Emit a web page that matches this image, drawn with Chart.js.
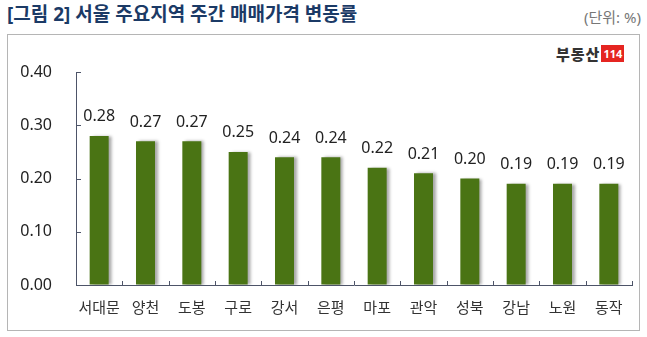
<!DOCTYPE html>
<html lang="ko">
<head>
<meta charset="utf-8">
<script src="https://cdn.jsdelivr.net/npm/chart.js@4/dist/chart.umd.min.js"></script>
<style>
  body { margin:0; width:647px; height:337px; background:#fff; position:relative; overflow:hidden;
         font-family:'Noto Sans','Noto Sans CJK KR',sans-serif; }
  #titre { position:absolute; left:7px; top:-1px; font-size:19px; font-weight:bold; color:#1b3a66; letter-spacing:0px; }
  #unite { position:absolute; right:6px; top:6px; font-size:15px; color:#777; }
  #cadre { position:absolute; left:7px; top:34px; width:633px; height:297px; border:1px solid #b5b5b5; box-sizing:border-box; }
  #logo { position:absolute; left:556px; top:45px; height:16px; display:flex; align-items:center; }
  #logo .txt { font-size:15px; font-weight:900; color:#333; letter-spacing:1px; margin-right:1px; }
  #logo .num { background:#e52521; color:#fff; font-size:11px; font-weight:bold; padding:1px 2px; line-height:15px; }
  #c { position:absolute; left:0; top:0; }
</style>
</head>
<body>
<div id="titre">[그림 2] 서울 주요지역 주간 매매가격 변동률</div>
<div id="unite">(단위: %)</div>
<div id="cadre"></div>
<div id="logo"><span class="txt">부동산</span><span class="num">114</span></div>
<canvas id="c" width="647" height="337"></canvas>
<script>
const regions = ['서대문','양천','도봉','구로','강서','은평','마포','관악','성북','강남','노원','동작']
const variations = [0.28,0.27,0.27,0.25,0.24,0.24,0.22,0.21,0.20,0.19,0.19,0.19]
const graduations = [0,0.1,0.2,0.3,0.4]

const couleurBarre = '#4a7414'
const couleurAxe = '#4d5468'
const police = "'Noto Sans','Noto Sans CJK KR',sans-serif"

// ombre a droite des barres
const ombre = {
  id:'ombre',
  beforeDatasetsDraw(chart){
    const ctx = chart.ctx
    ctx.save()
    ctx.shadowColor = 'rgba(0,0,0,0.35)'
    ctx.shadowOffsetX = 3
    ctx.shadowOffsetY = 0
    ctx.shadowBlur = 3
  },
  afterDatasetsDraw(chart){
    chart.ctx.restore()
  }
}

// valeurs au-dessus des barres
const etiquettes = {
  id:'etiquettes',
  afterDatasetsDraw(chart){
    const ctx = chart.ctx
    const meta = chart.getDatasetMeta(0)
    ctx.save()
    ctx.font = '16px ' + police
    ctx.fillStyle = '#222'
    ctx.textAlign = 'center'
    ctx.textBaseline = 'bottom'
    meta.data.forEach((barre,i)=>{
      ctx.fillText(variations[i].toFixed(2), barre.x, barre.y - 11)
    })
    ctx.restore()
  }
}

// petits traits vers l'interieur
const traits = {
  id:'traits',
  afterDraw(chart){
    const ctx = chart.ctx
    const x = chart.scales.x, y = chart.scales.y
    ctx.save()
    ctx.strokeStyle = couleurAxe
    ctx.lineWidth = 1
    ctx.beginPath()
    graduations.forEach(v=>{
      const py = Math.round(y.getPixelForValue(v)) + 0.5
      ctx.moveTo(x.left, py); ctx.lineTo(x.left + 5, py)
    })
    for(let i=1;i<=regions.length;i++){
      const px = Math.round(x.left + i*(x.right - x.left)/regions.length) + 0.5
      ctx.moveTo(px, y.bottom); ctx.lineTo(px, y.bottom - 4)
    }
    ctx.stroke()
    ctx.restore()
  }
}

new Chart(document.getElementById('c'),{
  type:'bar',
  data:{
    labels: regions,
    datasets:[{
      data: variations,
      backgroundColor: couleurBarre,
      barPercentage: 0.41,
      categoryPercentage: 1
    }]
  },
  options:{
    responsive:false,
    animation:false,
    layout:{ padding:{ top:72, left:0, right:15, bottom:0 } },
    plugins:{ legend:{display:false}, tooltip:{enabled:false} },
    scales:{
      x:{
        grid:{ display:true, drawOnChartArea:false, drawTicks:false },
        border:{ color:couleurAxe, width:1 },
        ticks:{ color:'#333', font:{ size:15, family:police }, padding:15, maxRotation:0 },
        afterFit(s){ s.height = 52 }
      },
      y:{
        min:0, max:0.4,
        grid:{ display:true, drawOnChartArea:false, drawTicks:false },
        border:{ color:couleurAxe, width:1 },
        ticks:{ stepSize:0.1, color:'#222', font:{ size:16, family:police }, padding:24,
                callback:(v)=>v.toFixed(2) },
        afterFit(s){ s.width = 76 }
      }
    }
  },
  plugins:[ombre, etiquettes, traits]
})
</script>
</body>
</html>
